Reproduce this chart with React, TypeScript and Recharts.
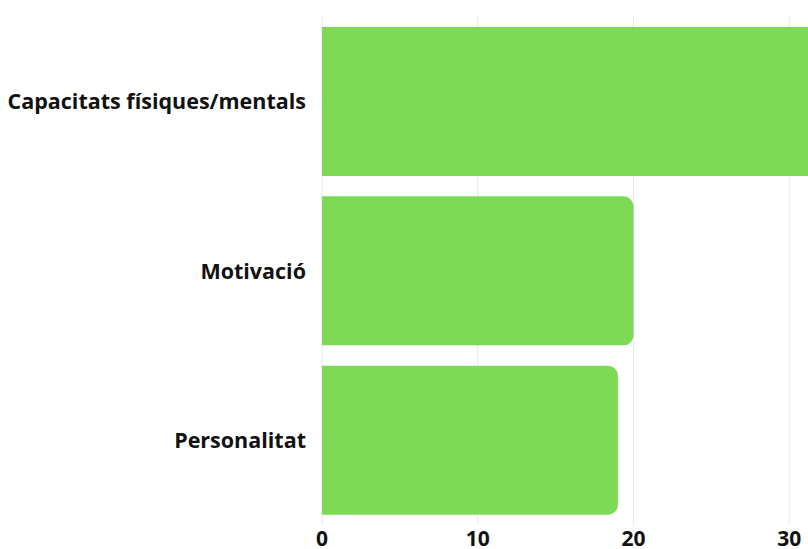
import { BarChart, Bar, XAxis, YAxis, CartesianGrid } from "recharts";

const categories = ["Capacitats físiques/mentals", "Motivació", "Personalitat"];
const values = [33, 20, 19];
const xTicks = [0, 10, 20, 30, 40];

const data = categories.map((name, i) => ({ name, value: values[i] }));

const font = "'Open Sans', 'Noto Sans', sans-serif";

export default function App() {
  return (
    <div
      style={{
        position: "absolute",
        left: 0,
        top: 0,
        width: 808,
        height: 549,
        overflow: "hidden",
        background: "#fff",
      }}
    >
      <BarChart
        width={960}
        height={549}
        data={data}
        layout="vertical"
        margin={{ top: 17, right: 15, left: 0, bottom: 0 }}
        barCategoryGap={10}
      >
        <CartesianGrid horizontal={false} stroke="#e6e6e6" />
        <XAxis
          type="number"
          domain={[0, 40]}
          ticks={xTicks}
          axisLine={false}
          tickLine={false}
          height={24}
          tickMargin={0}
          tick={{ fontSize: 21, fontWeight: 700, fill: "#111", fontFamily: font }}
        />
        <YAxis
          type="category"
          dataKey="name"
          width={322}
          axisLine={false}
          tickLine={false}
          tickMargin={10}
          tick={{ fontSize: 21.5, fontWeight: 700, fill: "#111", fontFamily: font }}
        />
        <Bar dataKey="value" fill="#7ed957" radius={[0, 10, 10, 0]} isAnimationActive={false} />
      </BarChart>
    </div>
  );
}
